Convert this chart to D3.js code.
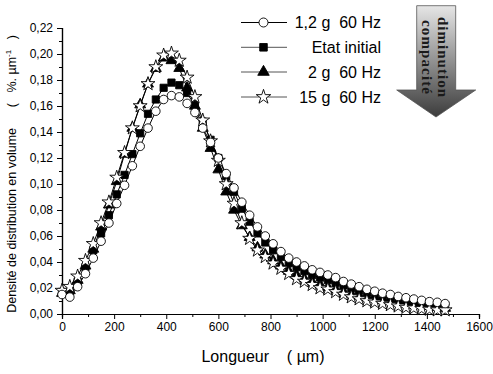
<!DOCTYPE html>
<html>
<head>
<meta charset="utf-8">
<script src="https://cdn.jsdelivr.net/npm/d3@7"></script>
<style>
  body { margin: 0; background: #fff; }
  svg { display: block; font-family: "Liberation Sans", Arial, sans-serif; }
</style>
</head>
<body>
<svg id="chart"></svg>
<script>
// longueur (µm), one point every 30 µm
var longueur = d3.range(0, 1500, 30);

var etatInitial = [0.017, 0.017, 0.025, 0.036, 0.049, 0.062, 0.076, 0.092, 0.107, 0.123,
  0.139, 0.154, 0.165, 0.174, 0.178, 0.176, 0.170, 0.160, 0.148, 0.134,
  0.120, 0.106, 0.094, 0.081, 0.071, 0.062, 0.055, 0.049, 0.044, 0.039,
  0.036, 0.033, 0.030, 0.028, 0.026, 0.024, 0.022, 0.020, 0.018, 0.0165,
  0.015, 0.0135, 0.0125, 0.011, 0.010, 0.009, 0.008, 0.007, 0.0063, 0.0057];

var g12 = [0.015, 0.013, 0.021, 0.031, 0.043, 0.056, 0.070, 0.085, 0.099, 0.114,
  0.129, 0.143, 0.156, 0.165, 0.168, 0.167, 0.162, 0.155, 0.143, 0.132,
  0.120, 0.108, 0.097, 0.086, 0.076, 0.067, 0.060, 0.054, 0.048, 0.043,
  0.040, 0.037, 0.034, 0.032, 0.030, 0.028, 0.025, 0.023, 0.021, 0.019,
  0.0175, 0.016, 0.015, 0.0135, 0.0125, 0.0115, 0.0105, 0.0095, 0.009, 0.008];

var g2 = [0.016, 0.018, 0.026, 0.037, 0.050, 0.067, 0.084, 0.102, 0.123, 0.143,
  0.161, 0.177, 0.189, 0.197, 0.195, 0.189, 0.174, 0.160, 0.143, 0.1275,
  0.111, 0.094, 0.080, 0.068, 0.059, 0.051, 0.0455, 0.041, 0.037, 0.033,
  0.030, 0.027, 0.0245, 0.0225, 0.0205, 0.019, 0.017, 0.0155, 0.014, 0.013,
  0.012, 0.011, 0.010, 0.009, 0.008, 0.0072, 0.0065, 0.006, 0.0052, 0.0045];

var g15 = [0.018, 0.021, 0.029, 0.041, 0.054, 0.070, 0.086, 0.105, 0.124, 0.143,
  0.160, 0.177, 0.190, 0.199, 0.2005, 0.195, 0.182, 0.167, 0.149, 0.133,
  0.118, 0.100, 0.085, 0.070, 0.058, 0.049, 0.044, 0.039, 0.035, 0.031,
  0.027, 0.025, 0.0225, 0.020, 0.019, 0.017, 0.015, 0.013, 0.0115, 0.010,
  0.009, 0.008, 0.007, 0.006, 0.005, 0.0045, 0.004, 0.0035, 0.003, 0.003];

var xTicks = [0, 200, 400, 600, 800, 1000, 1200, 1400, 1600];
var yTicks = [0, 0.02, 0.04, 0.06, 0.08, 0.10, 0.12, 0.14, 0.16, 0.18, 0.20, 0.22];

var legendLabels = ["1,2 g  60 Hz", "Etat initial", "2 g  60 Hz", "15 g  60 Hz"];

var W = 493, H = 374;
var svg = d3.select("#chart").attr("width", W).attr("height", H);

var x = d3.scaleLinear().domain([0, 1600]).range([62, 479]);
var y = d3.scaleLinear().domain([0, 0.22]).range([314, 28]);

var fmt = function(d) { return d3.format(".2f")(d).replace(".", ","); };

// axes (outer ticks, minor ticks between)
svg.append("g").attr("transform", "translate(0,314)")
  .call(d3.axisBottom(x).tickValues(xTicks).tickSize(5).tickPadding(3).tickFormat(d3.format("d")));
svg.append("g").attr("transform", "translate(0,314)")
  .call(d3.axisBottom(x).tickValues(d3.range(100, 1600, 200)).tickSize(3).tickFormat(""));
svg.append("g").attr("transform", "translate(62,0)")
  .call(d3.axisLeft(y).tickValues(yTicks).tickSize(5).tickPadding(4).tickFormat(fmt));
svg.append("g").attr("transform", "translate(62,0)")
  .call(d3.axisLeft(y).tickValues(d3.range(0.01, 0.22, 0.02)).tickSize(3).tickFormat(""));

svg.selectAll(".domain").attr("stroke", "#000").attr("stroke-width", 1.2);
svg.selectAll(".tick line").attr("stroke", "#000").attr("stroke-width", 1);
svg.selectAll(".tick text").attr("fill", "#000").style("font-size", "12px")
  .style("font-family", "Liberation Sans, Arial, sans-serif");

// axis titles
svg.append("text")
  .attr("x", 263).attr("y", 362)
  .attr("text-anchor", "middle")
  .style("font-size", "16px")
  .style("white-space", "pre")
  .text("Longueur    ( µm)");

var yt = svg.append("text")
  .attr("transform", "translate(16,174) rotate(-90)")
  .attr("text-anchor", "middle")
  .style("font-size", "12.5px")
  .style("white-space", "pre");
yt.append("tspan").text("Densité de distribution en volume      (   %. µm");
yt.append("tspan").attr("dy", -5).style("font-size", "8px").text("-1");
yt.append("tspan").attr("dy", 5).text("   )");

// series
var series = [
  { name: legendLabels[1], values: etatInitial, sym: d3.symbolSquare, size: 52, fill: "#000" },
  { name: legendLabels[2], values: g2, sym: d3.symbolTriangle, size: 52, fill: "#000" },
  { name: legendLabels[3], values: g15, sym: d3.symbolStar, size: 60, fill: "#fff" },
  { name: legendLabels[0], values: g12, sym: d3.symbolCircle, size: 58, fill: "#fff" }
];

var line = d3.line()
  .x(function(d, i) { return x(longueur[i]); })
  .y(function(d) { return y(d); });

series.forEach(function(s) {
  svg.append("path")
    .attr("d", line(s.values))
    .attr("fill", "none")
    .attr("stroke", "#000")
    .attr("stroke-width", 1);
});

series.forEach(function(s) {
  svg.append("g").selectAll("path")
    .data(s.values)
    .enter()
    .append("path")
    .attr("transform", function(d, i) { return "translate(" + x(longueur[i]) + "," + y(d) + ")"; })
    .attr("d", d3.symbol().type(s.sym).size(s.size))
    .attr("fill", s.fill)
    .attr("stroke", "#000")
    .attr("stroke-width", 0.9);
});

// legend
var legendOrder = [series[3], series[0], series[1], series[2]];
var rowsY = [22.5, 47.3, 72, 97];
var lg = svg.append("g");
legendOrder.forEach(function(s, i) {
  var ry = rowsY[i];
  lg.append("line").attr("x1", 241).attr("x2", 287).attr("y1", ry).attr("y2", ry)
    .attr("stroke", i === 0 ? "#000" : "#555").attr("stroke-width", 1);
  lg.append("path")
    .attr("transform", "translate(263.5," + ry + ")")
    .attr("d", d3.symbol().type(s.sym).size(s.size * 1.1))
    .attr("fill", s.fill).attr("stroke", "#000").attr("stroke-width", 0.9);
  lg.append("text")
    .attr("x", 381).attr("y", ry + 5.7)
    .attr("text-anchor", "end")
    .style("font-size", "16px")
    .style("white-space", "pre")
    .text(s.name);
});

// arrow "diminution compacité"
var defs = svg.append("defs");
var grad = defs.append("linearGradient").attr("id", "arrowGrad")
  .attr("x1", 0).attr("y1", 0).attr("x2", 0).attr("y2", 1);
grad.append("stop").attr("offset", "0%").attr("stop-color", "#e6e6e6");
grad.append("stop").attr("offset", "100%").attr("stop-color", "#3c3c3c");

var arrowPts = [[416.7, 5.7], [455.7, 5.7], [455.7, 90], [475.7, 90],
  [436, 117], [396.7, 90], [416.7, 90]];
svg.append("path")
  .attr("d", d3.line()(arrowPts) + "Z")
  .attr("fill", "url(#arrowGrad)")
  .attr("stroke", "#555")
  .attr("stroke-width", 0.8);

var arrowWords = [["diminution", 443, 80], ["compacité", 427, 74]];
arrowWords.forEach(function(w) {
  svg.append("text")
    .attr("transform", "translate(" + w[1] + ",57) rotate(90)")
    .attr("text-anchor", "middle")
    .attr("dominant-baseline", "central")
    .attr("textLength", w[2])
    .attr("lengthAdjust", "spacing")
    .style("font-family", "Liberation Serif, Times New Roman, serif")
    .style("font-weight", "bold")
    .style("font-size", "15px")
    .attr("fill", "#1a1a1a")
    .text(w[0]);
});
</script>
</body>
</html>
